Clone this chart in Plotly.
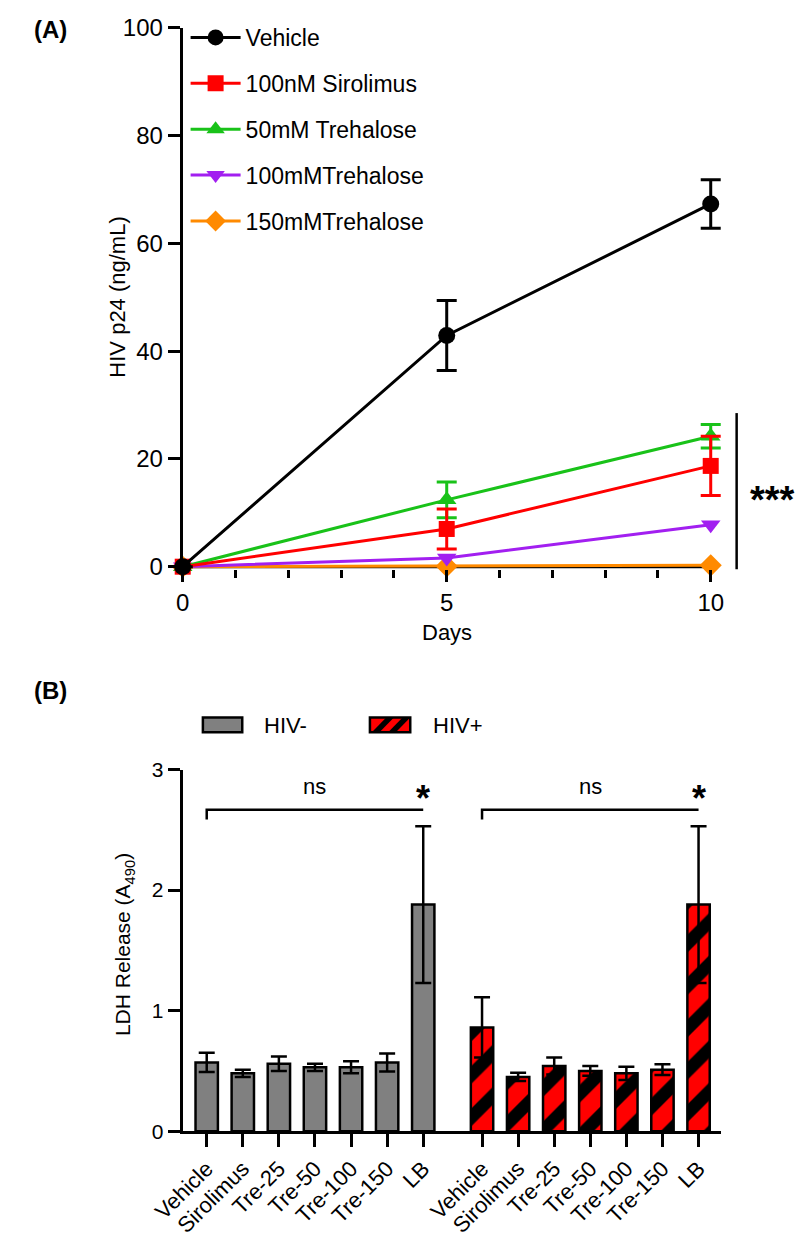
import plotly.graph_objects as go

# ---------------- data: panel A ----------------
days = [0, 5, 10]
series_names = ["Vehicle", "100nM Sirolimus", "50mM Trehalose", "100mMTrehalose", "150mMTrehalose"]
vehicle = [0, 42.9, 67.3]
vehicle_err = [None, 6.5, 4.5]
sirolimus = [0, 7.0, 18.7]
sirolimus_err = [None, 3.7, 5.5]
tre50 = [0, 12.4, 24.2]
tre50_err = [None, 3.3, 2.2]
tre100 = [0, 1.6, 7.8]
tre150 = [0, 0.1, 0.25]
day_ticks = [0, 5, 10]

# ---------------- data: panel B ----------------
categories = ["Vehicle", "Sirolimus", "Tre-25", "Tre-50", "Tre-100", "Tre-150", "LB"]
hiv_neg = [0.57, 0.48, 0.56, 0.53, 0.53, 0.57, 1.88]
hiv_neg_err = [0.08, 0.03, 0.06, 0.03, 0.05, 0.075, 0.65]
hiv_pos = [0.86, 0.45, 0.54, 0.50, 0.48, 0.51, 1.88]
hiv_pos_err = [0.25, 0.035, 0.07, 0.04, 0.055, 0.045, 0.65]
group_names = ["HIV-", "HIV+"]

W, H = 800, 1247
FONT = "Liberation Sans, Arial, sans-serif"


def px(xp):
    return xp / W


def py(yp):
    return 1 - yp / H


fig = go.Figure()

# ---- panel A traces (drawn in reverse so Vehicle is on top) ----
specs = [
    (series_names[0], vehicle, vehicle_err, "#000000", "circle", 17),
    (series_names[1], sirolimus, sirolimus_err, "#ff0000", "square", 16),
    (series_names[2], tre50, tre50_err, "#19c219", "triangle-up", 17),
    (series_names[3], tre100, None, "#a21ff0", "triangle-down", 17),
    (series_names[4], tre150, None, "#ff8a00", "diamond", 17),
]
for rank, (name, y, err, color, sym, size) in reversed(list(enumerate(specs))):
    fig.add_trace(go.Scatter(
        x=days, y=y, name=name, mode="lines+markers",
        line=dict(color=color, width=3),
        marker=dict(symbol=sym, size=size, color=color),
        error_y=dict(type="data", array=err if err else [0, 0, 0], visible=err is not None,
                     color=color, thickness=3, width=10),
        cliponaxis=False, legendrank=rank + 1, legendgroup=name,
        xaxis="x", yaxis="y",
    ))

# ---- panel B traces ----
group_gap = 0.63
xpos1 = [i for i in range(len(categories))]
xpos2 = [len(categories) + group_gap + i for i in range(len(categories))]
bar_w = 0.62

fig.add_trace(go.Bar(
    x=xpos1, y=hiv_neg, width=bar_w, name=group_names[0], showlegend=False,
    marker=dict(color="#808080", line=dict(color="black", width=2.5)),
    error_y=dict(type="data", array=hiv_neg_err, color="black", thickness=2.5, width=8),
    xaxis="x2", yaxis="y2",
))
fig.add_trace(go.Bar(
    x=xpos2, y=hiv_pos, width=bar_w, name=group_names[1], showlegend=False,
    marker=dict(color="#ff0000", line=dict(color="black", width=2.5),
                pattern=dict(shape="/", fgcolor="#000000", bgcolor="#ff0000", fgopacity=1,
                             size=30, solidity=0.42, fillmode="replace")),
    error_y=dict(type="data", array=hiv_pos_err, color="black", thickness=2.5, width=8),
    xaxis="x2", yaxis="y2",
))

axis_common = dict(linecolor="black", linewidth=3, ticks="outside",
                   tickcolor="black", tickwidth=3, showgrid=False, zeroline=False)

# panel A pixel geometry: x 0 -> 157px, 10 -> 707px ; y 0 -> 564px, 100 -> 14px
xa_range = [0, 10.5]
ya_range = [-0.5, 100]
fig.update_layout(
    width=W, height=H, margin=dict(l=0, r=0, t=0, b=0),
    paper_bgcolor="white", plot_bgcolor="white",
    font=dict(family=FONT, color="black"),
    barmode="overlay",
    xaxis=dict(domain=[px(157), px(157 + 55 * xa_range[1])], range=xa_range, anchor="y",
               tickvals=day_ticks, ticklen=12, tickfont=dict(size=24), showline=False,
               minor=dict(dtick=1, ticks="outside", ticklen=8, tickwidth=3, tickcolor="black"),
               **axis_common),
    yaxis=dict(domain=[py(564 - 5.5 * ya_range[0]), py(14)], range=ya_range, anchor="x",
               tickvals=[0, 20, 40, 60, 80, 100], ticklen=12, tickfont=dict(size=24),
               showline=True, **axis_common),
    xaxis2=dict(domain=[px(157), px(718)], range=[-0.665, 14.26], anchor="y2",
                tickvals=xpos1 + xpos2, ticktext=categories + categories, tickangle=-45,
                ticklen=13, tickfont=dict(size=22), showline=True, **axis_common),
    yaxis2=dict(domain=[py(1140), py(771)], range=[0, 3], anchor="x2",
                dtick=1, ticklen=12, tickfont=dict(size=21), showline=True, **axis_common),
    legend=dict(x=px(160), y=py(2), xanchor="left", yanchor="top",
                font=dict(size=23), tracegroupgap=13, bgcolor="rgba(0,0,0,0)",
                itemwidth=50),
)

shapes = []
# x axis line of panel A (from day 0 to day 10)
shapes.append(dict(type="line", xref="x", yref="y", x0=day_ticks[0], x1=day_ticks[-1], y0=0, y1=0,
                   layer="below", line=dict(color="black", width=3)))
# significance line, panel A
shapes.append(dict(type="line", xref="paper", yref="y", x0=px(734), x1=px(734), y0=-0.5, y1=28.5,
                   line=dict(color="black", width=2.5)))
# brackets, panel B
for xs in (xpos1, xpos2):
    shapes.append(dict(type="path", xref="x2", yref="y2",
                       path=f"M {xs[0]},2.585 L {xs[0]},2.667 L {xs[-1]},2.667",
                       line=dict(color="black", width=2.5)))
# legend swatches, panel B
shapes.append(dict(type="rect", xref="paper", yref="paper", x0=px(178), x1=px(219), y0=py(733), y1=py(718),
                   fillcolor="#808080", line=dict(color="black", width=2.5)))
shapes.append(dict(type="rect", xref="paper", yref="paper", x0=px(352), x1=px(394), y0=py(733), y1=py(718),
                   fillcolor="#ff0000", line=dict(width=0)))
for x0 in (354, 371):
    pts = [(x0, 733), (x0 + 8, 733), (x0 + 23, 718), (x0 + 15, 718)]
    shapes.append(dict(type="path", xref="paper", yref="paper",
                       path="M " + " L ".join(f"{px(a)},{py(b)}" for a, b in pts) + " Z",
                       fillcolor="black", line=dict(width=0)))
shapes.append(dict(type="rect", xref="paper", yref="paper", x0=px(352), x1=px(394), y0=py(733), y1=py(718),
                   fillcolor="rgba(0,0,0,0)", line=dict(color="black", width=2.5)))


def ann(text, x, y, size, xref="paper", yref="paper", xanchor="center", angle=0):
    return dict(text=text, x=x, y=y, xref=xref, yref=yref, xanchor=xanchor, yanchor="middle",
                textangle=angle, showarrow=False, font=dict(size=size))


annotations = [
    ann("<b>(A)</b>", px(0), py(16), 24, xanchor="left"),
    ann("<b>(B)</b>", px(0), py(690), 24, xanchor="left"),
    ann("HIV p24 (ng/mL)", px(89), py(289), 22, angle=-90),
    ann("Days", px(432), py(631), 22),
    ann("<b>***</b>", px(771), 12.4, 38, yref="y"),
    ann("LDH Release (A<sub>490</sub>)", px(96), py(950), 21, angle=-90),
    ann(group_names[0], px(240), py(726), 22, xanchor="left"),
    ann(group_names[1], px(416), py(726), 22, xanchor="left"),
]
for xs in (xpos1, xpos2):
    annotations.append(ann("ns", (xs[0] + xs[-1]) / 2, 2.86, 22, xref="x2", yref="y2"))
    annotations.append(ann("<b>*</b>", xs[-1], 2.76, 36, xref="x2", yref="y2"))

fig.update_layout(shapes=shapes, annotations=annotations)
fig.write_html("out.html", config={"displayModeBar": False},
               post_script="document.body.style.margin='0px';")
